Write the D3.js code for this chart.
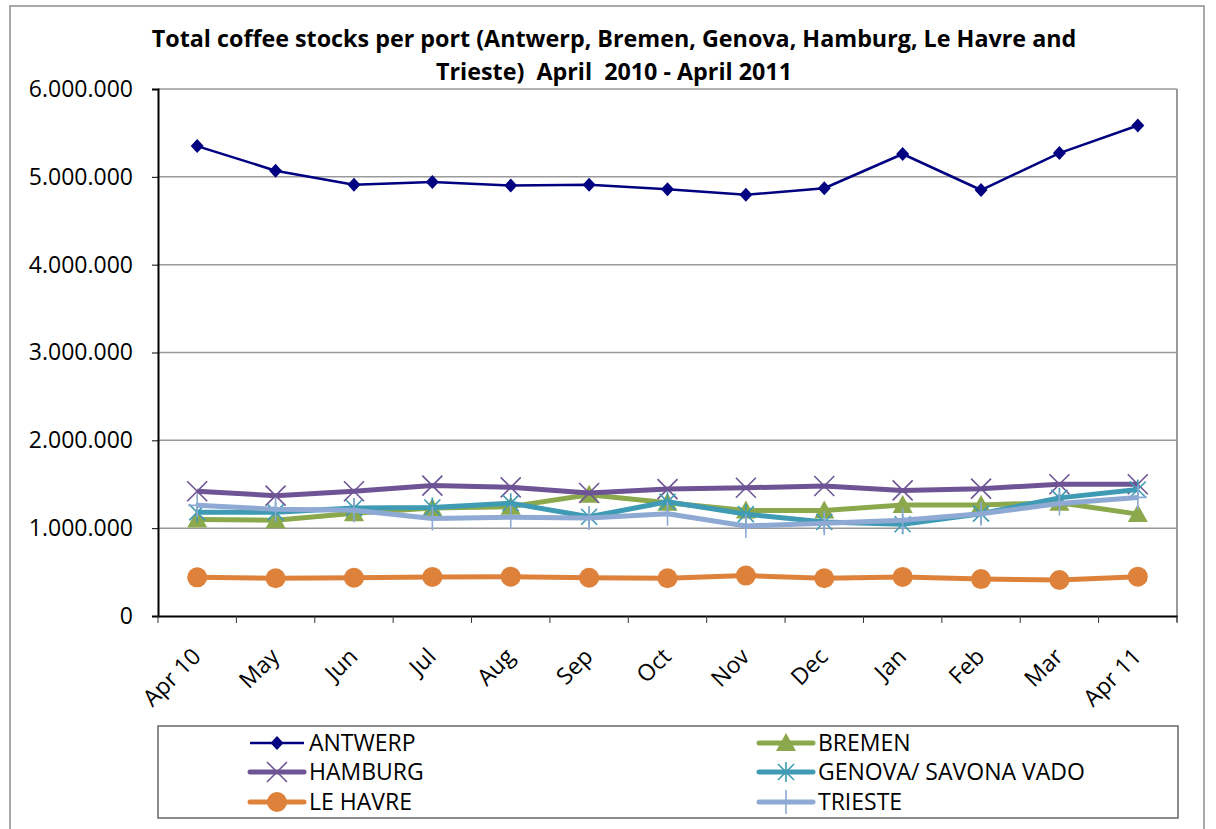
<!DOCTYPE html>
<html>
<head>
<meta charset="utf-8">
<script src="https://cdn.jsdelivr.net/npm/d3@7"></script>
<style>
  body { margin: 0; background: #fff; }
  svg text { font-family: "Open Sans", "Liberation Sans", sans-serif; fill: #000; white-space: pre; }
</style>
</head>
<body>
<script>
// months on the x axis
var categories = ["Apr 10", "May", "Jun", "Jul", "Aug", "Sep", "Oct", "Nov", "Dec", "Jan", "Feb", "Mar", "Apr 11"];

// stocks per port (bags)
var antwerp = [5350000, 5070000, 4910000, 4940000, 4900000, 4910000, 4860000, 4795000, 4870000, 5260000, 4850000, 5270000, 5585000];
var bremen  = [1100000, 1090000, 1170000, 1230000, 1245000, 1380000, 1290000, 1200000, 1200000, 1265000, 1265000, 1290000, 1160000];
var hamburg = [1420000, 1370000, 1420000, 1485000, 1465000, 1400000, 1445000, 1460000, 1480000, 1430000, 1450000, 1500000, 1500000];
var genova  = [1180000, 1180000, 1230000, 1235000, 1285000, 1130000, 1300000, 1160000, 1070000, 1045000, 1165000, 1345000, 1440000];
var lehavre = [440000, 430000, 435000, 445000, 448000, 435000, 430000, 460000, 430000, 445000, 420000, 410000, 448000];
var trieste = [1260000, 1215000, 1205000, 1110000, 1125000, 1115000, 1165000, 1025000, 1055000, 1090000, 1165000, 1280000, 1350000];

var yTicks = [0, 1000000, 2000000, 3000000, 4000000, 5000000, 6000000];

var series = [
  {name: "ANTWERP", values: antwerp, color: "#000080", width: 2.5, marker: "diamond"},
  {name: "BREMEN", values: bremen, color: "#8BA84C", width: 5, marker: "triangle"},
  {name: "HAMBURG", values: hamburg, color: "#6E5494", width: 5, marker: "x"},
  {name: "GENOVA/ SAVONA VADO", values: genova, color: "#3E9BB3", width: 5, marker: "star"},
  {name: "LE HAVRE", values: lehavre, color: "#DE823B", width: 5, marker: "circle"},
  {name: "TRIESTE", values: trieste, color: "#8EA9D3", width: 5, marker: "plus"}
];

var W = 1216, H = 829;
var plotL = 158, plotR = 1177, plotT = 89, plotB = 616;

var svg = d3.select("body").append("svg")
  .attr("width", W)
  .attr("height", H);

// outer chart border
svg.append("rect")
  .attr("x", 10).attr("y", 6)
  .attr("width", 1194).attr("height", 860)
  .attr("fill", "none")
  .attr("stroke", "#8c8c8c")
  .attr("stroke-width", 1.5);

// title
var title = svg.append("text")
  .attr("text-anchor", "middle")
  .attr("font-weight", "bold")
  .attr("font-size", 23.3);
title.append("tspan").attr("x", 614).attr("y", 47)
  .text("Total coffee stocks per port (Antwerp, Bremen, Genova, Hamburg, Le Havre and");
title.append("tspan").attr("x", 614).attr("y", 80)
  .text("Trieste)  April  2010 - April 2011");

var x = d3.scaleBand().domain(categories).range([plotL, plotR]).padding(0);
var y = d3.scaleLinear().domain([0, 6000000]).range([plotB, plotT]);

var locale = d3.formatLocale({decimal: ",", thousands: ".", grouping: [3], currency: ["", ""]});
var fmt = locale.format(",d");

// grid lines
svg.append("g").selectAll("line")
  .data(yTicks.filter(function(d){ return d > 0; }))
  .enter().append("line")
  .attr("x1", plotL).attr("x2", plotR)
  .attr("y1", function(d){ return y(d); })
  .attr("y2", function(d){ return y(d); })
  .attr("stroke", "#9a9a9a")
  .attr("stroke-width", 1.5);

// right border of plot area
svg.append("line")
  .attr("x1", plotR).attr("x2", plotR)
  .attr("y1", plotT).attr("y2", plotB + 6)
  .attr("stroke", "#9a9a9a")
  .attr("stroke-width", 2);

// y axis
var yAxis = svg.append("g")
  .attr("transform", "translate(" + plotL + ",0)")
  .call(d3.axisLeft(y).tickValues(yTicks).tickFormat(fmt).tickSize(6).tickPadding(19));
yAxis.select(".domain").attr("stroke", "#000").attr("stroke-width", 2);
yAxis.selectAll(".tick line").attr("stroke", "#000").attr("stroke-width", 1);
yAxis.selectAll("text")
  .attr("font-size", 23)
  .attr("font-family", "Open Sans, sans-serif")
  .attr("fill", "#000");

// x axis
var xAxis = svg.append("g")
  .attr("transform", "translate(0," + plotB + ")")
  .call(d3.axisBottom(x).tickSize(0).tickFormat(""));
xAxis.select(".domain").attr("stroke", "#000").attr("stroke-width", 2);

// category boundary ticks
var edges = categories.map(function(c){ return x(c); }).concat([plotR]);
svg.append("g").selectAll("line")
  .data(edges)
  .enter().append("line")
  .attr("x1", function(d){ return d; })
  .attr("x2", function(d){ return d; })
  .attr("y1", plotB).attr("y2", plotB + 7)
  .attr("stroke", "#333")
  .attr("stroke-width", 1);

// rotated category labels
svg.append("g").selectAll("text")
  .data(categories)
  .enter().append("text")
  .attr("transform", function(d){
    return "translate(" + (x(d) + x.bandwidth() / 2 + 5) + "," + (plotB + 42) + ") rotate(-45)";
  })
  .attr("text-anchor", "end")
  .attr("font-size", 23)
  .text(function(d){ return d; });

function cx(i){ return x(categories[i]) + x.bandwidth() / 2; }

function drawMarker(g, type, color) {
  if (type === "diamond") {
    g.append("path").attr("d", "M0,-7L6.5,0L0,7L-6.5,0Z").attr("fill", color);
  } else if (type === "triangle") {
    g.append("path").attr("d", "M0,-10L10,8L-10,8Z").attr("fill", color);
  } else if (type === "circle") {
    g.append("circle").attr("r", 10).attr("fill", color);
  } else if (type === "x") {
    g.append("path").attr("d", "M-10,-10L10,10M-10,10L10,-10")
      .attr("stroke", color).attr("stroke-width", 1.6).attr("fill", "none");
  } else if (type === "star") {
    g.append("path").attr("d", "M-8,-8L8,8M-8,8L8,-8M0,-10L0,10")
      .attr("stroke", color).attr("stroke-width", 1.6).attr("fill", "none");
  } else if (type === "plus") {
    g.append("path").attr("d", "M0,-12L0,12M-9,0L9,0")
      .attr("stroke", color).attr("stroke-width", 1.6).attr("fill", "none");
  }
}

var line = d3.line()
  .x(function(d, i){ return cx(i); })
  .y(function(d){ return y(d); });

// later series are drawn on top
series.forEach(function(s){
  var g = svg.append("g");
  g.append("path")
    .attr("d", line(s.values))
    .attr("fill", "none")
    .attr("stroke", s.color)
    .attr("stroke-width", s.width)
    .attr("stroke-linejoin", "round");
  g.selectAll("g.m")
    .data(s.values)
    .enter().append("g")
    .attr("class", "m")
    .attr("transform", function(d, i){ return "translate(" + cx(i) + "," + y(d) + ")"; })
    .each(function(){ drawMarker(d3.select(this), s.marker, s.color); });
});

// legend
svg.append("rect")
  .attr("x", 158).attr("y", 726)
  .attr("width", 1020).attr("height", 92)
  .attr("fill", "#fff")
  .attr("stroke", "#666")
  .attr("stroke-width", 1.5);

var legCols = [250, 759];
var legRows = [743, 772, 802];
series.forEach(function(s, i){
  var lx = legCols[i % 2], ly = legRows[Math.floor(i / 2)];
  var g = svg.append("g").attr("transform", "translate(" + lx + "," + ly + ")");
  g.append("line")
    .attr("x1", 0).attr("x2", 54)
    .attr("y1", 0).attr("y2", 0)
    .attr("stroke", s.color)
    .attr("stroke-width", s.width)
    .attr("stroke-linecap", s.width > 3 ? "round" : "butt");
  var m = g.append("g").attr("transform", "translate(27,0)");
  drawMarker(m, s.marker, s.color);
  g.append("text")
    .attr("x", 59).attr("y", 8)
    .attr("font-size", 23)
    .text(s.name);
});
</script>
</body>
</html>
